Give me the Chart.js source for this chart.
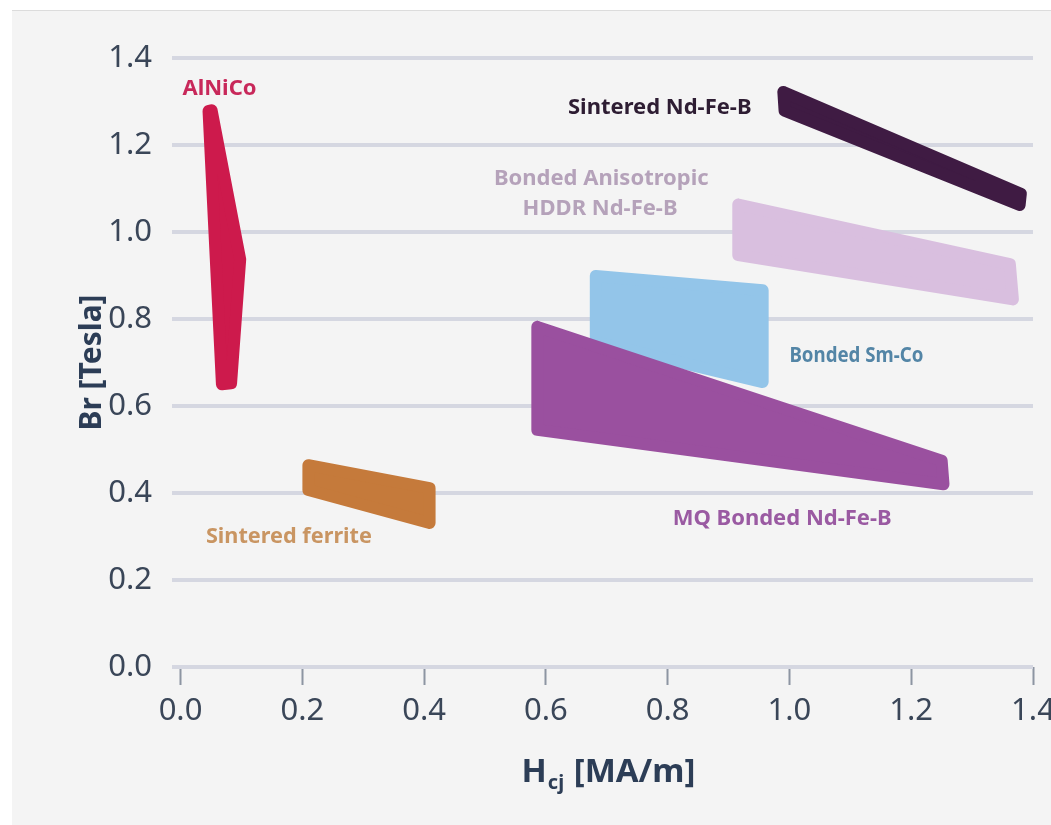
<!DOCTYPE html>
<html>
<head>
<meta charset="utf-8">
<script src="https://cdn.jsdelivr.net/npm/chart.js@4.4.1/dist/chart.umd.min.js"></script>
<style>
  html, body { margin: 0; padding: 0; background: #ffffff; }
  #frame {
    position: absolute; left: 12px; top: 10px; width: 1039px; height: 815px;
    background: #f4f4f4; border-top: 1px solid #dcdcdc;
  }
  canvas { display: block; }
</style>
</head>
<body>
<div id="frame"><canvas id="magnetChart" width="1039" height="814"></canvas></div>
<script>
// axis ticks
const hcjTicks = [0.0, 0.2, 0.4, 0.6, 0.8, 1.0, 1.2, 1.4];
const brTicks = [0.0, 0.2, 0.4, 0.6, 0.8, 1.0, 1.2, 1.4];

// material regions - corners of each outline, Hcj in MA/m and Br in Tesla
const alnicoHcj = [0.046, 0.051, 0.098, 0.083, 0.068];
const alnicoBr  = [1.278, 1.280, 0.937, 0.652, 0.650];

const ferriteHcj = [0.210, 0.409, 0.409, 0.210];
const ferriteBr  = [0.464, 0.411, 0.331, 0.407];

const sinteredHcj = [0.990, 1.380, 1.378, 0.992];
const sinteredBr  = [1.322, 1.088, 1.062, 1.279];

const hddrHcj = [0.916, 1.362, 1.367, 0.916];
const hddrBr  = [1.063, 0.926, 0.845, 0.947];

const smcoHcj = [0.682, 0.956, 0.956, 0.682];
const smcoBr  = [0.899, 0.866, 0.655, 0.747];

const mqHcj = [0.586, 1.250, 1.253, 0.586];
const mqBr  = [0.782, 0.474, 0.420, 0.545];

function outline(hcj, br) {
    const pts = hcj.map((h, i) => ({ x: h, y: br[i] }));
    pts.push(pts[0]); // close the border path
    return pts;
}

function region(name, hcj, br, color) {
    return {
        label: name,
        data: outline(hcj, br),
        backgroundColor: color,
        borderColor: color,
        borderWidth: 12,
        borderJoinStyle: 'round',
        borderCapStyle: 'round',
        fill: 'shape',
        tension: 0,
        pointRadius: 0,
        pointHoverRadius: 0,
        clip: false
    };
}

// region captions placed in data coordinates
const captions = [
    { text: 'AlNiCo', hcj: 0.064, br: 1.330, color: '#c8285a', maxW: 76 },
    { text: 'Sintered Nd-Fe-B', hcj: 0.787, br: 1.285, color: '#2e1d33', maxW: 184 },
    { text: 'Bonded Anisotropic', hcj: 0.691, br: 1.122, color: '#b5a2ba', maxW: 220 },
    { text: 'HDDR Nd-Fe-B', hcj: 0.689, br: 1.053, color: '#b5a2ba', maxW: 160 },
    { text: 'Bonded Sm-Co', hcj: 1.110, br: 0.716, color: '#5385a6', maxW: 134 },
    { text: 'MQ Bonded Nd-Fe-B', hcj: 0.988, br: 0.340, color: '#9a5aa2', maxW: 232 },
    { text: 'Sintered ferrite', hcj: 0.178, br: 0.299, color: '#c99562', maxW: 166 }
];

const textPlugin = {
    id: 'textPlugin',
    afterDatasetsDraw(chart) {
        const { ctx, chartArea } = chart;
        const x = chart.scales.x;
        const y = chart.scales.y;
        ctx.save();
        ctx.textAlign = 'center';
        ctx.textBaseline = 'middle';
        ctx.font = 'bold 22px "Noto Sans"';
        captions.forEach(c => {
            ctx.fillStyle = c.color;
            ctx.fillText(c.text, x.getPixelForValue(c.hcj), y.getPixelForValue(c.br), c.maxW);
        });

        // y axis title
        ctx.fillStyle = '#2c3d56';
        ctx.font = 'bold 30px "Noto Sans"';
        ctx.save();
        ctx.translate(80, (chartArea.top + chartArea.bottom) / 2);
        ctx.rotate(-Math.PI / 2);
        ctx.fillText('Br [Tesla]', 0, 0, 148);
        ctx.restore();

        // x axis title with subscript
        ctx.textAlign = 'left';
        ctx.textBaseline = 'alphabetic';
        const big = 'bold 33px "Noto Sans"';
        const small = 'bold 20px "Noto Sans"';
        ctx.font = big;
        const wH = ctx.measureText('H').width;
        const wRest = ctx.measureText(' [MA/m]').width;
        ctx.font = small;
        const wSub = ctx.measureText('cj').width + 1;
        let tx = 596 - (wH + wSub + wRest) / 2;
        const base = 771;
        ctx.font = big;
        ctx.fillText('H', tx, base);
        tx += wH + 1;
        ctx.font = small;
        ctx.fillText('cj', tx, base + 7);
        tx += wSub;
        ctx.font = big;
        ctx.fillText(' [MA/m]', tx, base);
        ctx.restore();
    }
};

const magnetCtx = document.getElementById('magnetChart').getContext('2d');
new Chart(magnetCtx, {
    type: 'line',
    data: {
        datasets: [
            region('AlNiCo', alnicoHcj, alnicoBr, '#cd1a4c'),
            region('Sintered ferrite', ferriteHcj, ferriteBr, '#c57a3b'),
            region('Sintered Nd-Fe-B', sinteredHcj, sinteredBr, '#3f1b43'),
            region('Bonded Anisotropic HDDR Nd-Fe-B', hddrHcj, hddrBr, '#d9bfdf'),
            region('MQ Bonded Nd-Fe-B', mqHcj, mqBr, '#9a509f'),
            region('Bonded Sm-Co', smcoHcj, smcoBr, '#93c5e9')
        ]
    },
    options: {
        responsive: false,
        animation: false,
        events: [],
        layout: {
            padding: { top: 47, right: 18, left: 0, bottom: 0 }
        },
        plugins: {
            legend: { display: false },
            tooltip: { enabled: false },
            title: { display: false }
        },
        scales: {
            x: {
                type: 'linear',
                min: -0.014,
                max: 1.4,
                afterBuildTicks: function (scale) {
                    scale.ticks = hcjTicks.map(v => ({ value: v }));
                },
                afterFit: function (scale) {
                    scale.height = 158;
                    scale.paddingLeft = 0;
                    scale.paddingRight = 0;
                },
                border: { display: false },
                grid: {
                    drawOnChartArea: false,
                    drawTicks: true,
                    tickLength: 18,
                    tickWidth: 2,
                    tickColor: '#8d95a2'
                },
                ticks: {
                    autoSkip: false,
                    maxRotation: 0,
                    padding: 8,
                    color: '#3a4658',
                    font: { family: 'Noto Sans', size: 31 },
                    callback: function (value) {
                        return Number(value).toFixed(1);
                    }
                }
            },
            y: {
                type: 'linear',
                min: 0,
                max: 1.4,
                afterBuildTicks: function (scale) {
                    scale.ticks = brTicks.map(v => ({ value: v }));
                },
                afterFit: function (scale) {
                    scale.width = 160;
                    scale.paddingTop = 0;
                    scale.paddingBottom = 0;
                },
                border: { display: false },
                grid: {
                    color: '#d5d7e1',
                    lineWidth: 4,
                    drawTicks: false
                },
                ticks: {
                    padding: 20,
                    color: '#3a4658',
                    font: { family: 'Noto Sans', size: 31 },
                    callback: function (value) {
                        return Number(value).toFixed(1);
                    }
                }
            }
        }
    },
    plugins: [textPlugin]
});
</script>
</body>
</html>
